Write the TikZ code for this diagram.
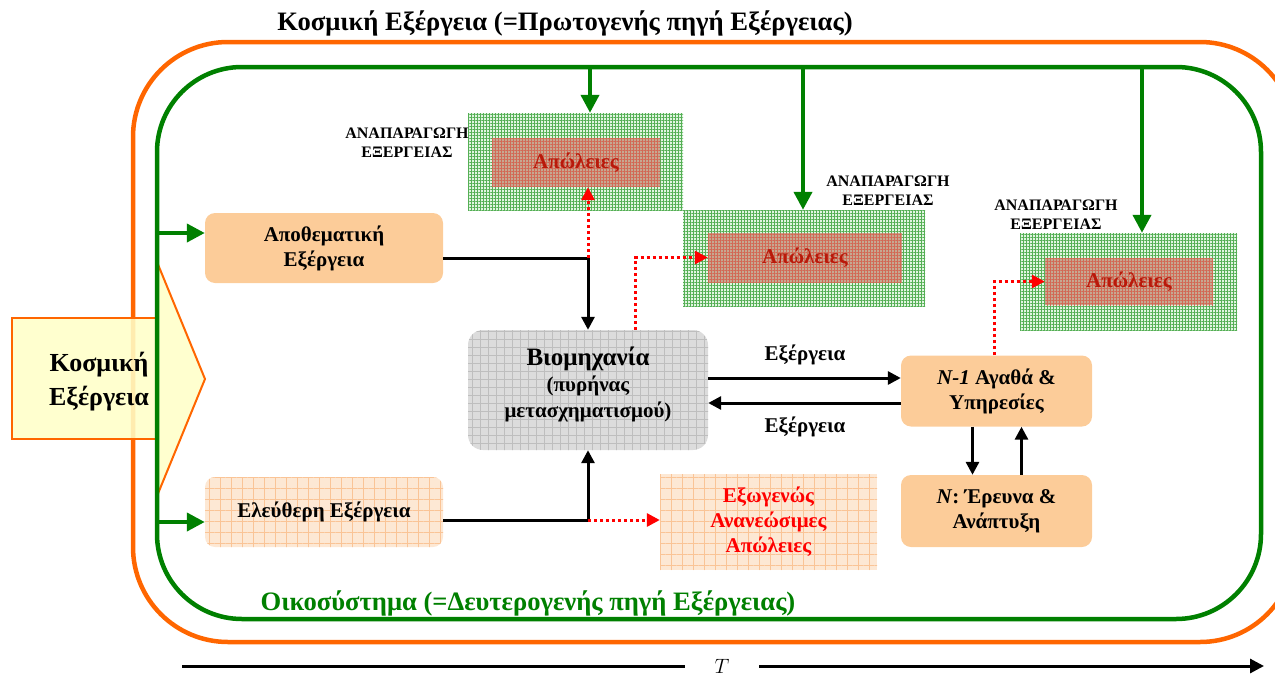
\documentclass[tikz,border=0pt]{standalone}
\usepackage{fontspec}
\setmainfont{Liberation Serif}
\usetikzlibrary{arrows.meta,patterns.meta,calc}

\definecolor{orangeline}{RGB}{255,102,0}
\definecolor{greenline}{RGB}{0,128,0}
\definecolor{peach}{RGB}{252,204,153}
\definecolor{lightpeach}{RGB}{253,232,212}
\definecolor{peachgrid}{RGB}{250,196,150}
\definecolor{boxgrey}{RGB}{220,220,220}
\definecolor{gridgrey}{RGB}{190,190,190}
\definecolor{paleyellow}{RGB}{255,255,200}
\definecolor{greenbase}{RGB}{225,245,225}
\definecolor{greengrid}{RGB}{85,175,85}
\definecolor{lossbase}{RGB}{198,168,145}
\definecolor{lossgrid}{RGB}{210,105,85}
\definecolor{losstext}{RGB}{185,25,10}

\tikzset{
  flowline/.style={line width=3pt, -{Triangle[length=13pt,width=13pt]}},
  greenflow/.style={greenline, line width=4pt, -{Triangle[length=18pt,width=18pt]}},
  lossflow/.style={red, line width=3pt, dash pattern=on 3pt off 3pt,
    -{Triangle[length=13pt,width=13pt]}},
  boxfont/.style={font=\fontsize{21}{25}\selectfont\bfseries},
  peachbox/.style={fill=peach, rounded corners=10pt, align=center,
    boxfont, inner sep=0pt},
  lightbox/.style={fill=lightpeach, align=center, inner sep=0pt,
    postaction={pattern={Hatch[angle=0,distance=11pt,line width=.6pt]},
      pattern color=peachgrid}},
  greybox/.style={fill=boxgrey, rounded corners=15pt, align=center, inner sep=0pt,
    postaction={pattern={Hatch[angle=0,distance=8pt,line width=.6pt]},
      pattern color=gridgrey}},
  greentex/.style={fill=greenbase, inner sep=0pt,
    postaction={pattern={Hatch[angle=0,distance=3pt,line width=.8pt]},
      pattern color=greengrid}},
  losstex/.style={fill=lossbase, inner sep=0pt, text=losstext,
    font=\fontsize{21}{21}\selectfont\bfseries,
    postaction={pattern={Hatch[angle=0,distance=3pt,line width=.6pt]},
      pattern color=lossgrid}},
  replabel/.style={align=center, inner sep=0pt,
    font=\fontsize{16}{19}\selectfont\bfseries},
  exlabel/.style={inner sep=0pt, font=\fontsize{21}{21}\selectfont\bfseries},
}

\begin{document}
\begin{tikzpicture}[x=1pt,y=-1pt]
\useasboundingbox (0,0) rectangle (1275,675);

% outer frame: cosmic exergy (primary source)
\begin{scope}
  \clip (0,0) rectangle (1275,675);
  \draw[orangeline, line width=4.5pt, rounded corners=95pt]
    (133,42) rectangle (1295,642);
\end{scope}

% incoming cosmic exergy arrow
\fill[paleyellow, fill opacity=0.88] (12,318) -- (157,318) -- (157,262) -- (205,379)
  -- (157,496) -- (157,439) -- (12,439) -- cycle;
\draw[orangeline, line width=2pt] (157,318) -- (12,318) -- (12,439) -- (157,439);
\draw[orangeline, line width=2pt] (157,262) -- (205,379) -- (157,496);
\node[align=center, inner sep=0pt, font=\fontsize{26}{34}\selectfont\bfseries]
  (cosmic) at (99,382) {Κοσμική\\Εξέργεια};

% inner frame: ecosystem (secondary source)
\draw[greenline, line width=4.5pt, rounded corners=85pt] (157,67) rectangle (1261,619);

% titles
\node[inner sep=0pt, font=\fontsize{26.6}{26}\selectfont\bfseries]
  (title) at (565,23) {Κοσμική Εξέργεια (=Πρωτογενής πηγή Εξέργειας)};
\node[inner sep=0pt, text=greenline, font=\fontsize{26.6}{26}\selectfont\bfseries]
  (eco) at (528,603) {Οικοσύστημα (=Δευτερογενής πηγή Εξέργειας)};

% exergy sources
\node[peachbox, minimum width=238pt, minimum height=70pt] (stock) at (324,248)
  {Αποθεματική\\Εξέργεια};
\node[lightbox, rounded corners=10pt, minimum width=238pt, minimum height=70pt,
  boxfont] (free) at (324,512) {Ελεύθερη Εξέργεια};

% industry core
\node[greybox, minimum width=240pt, minimum height=120pt, text depth=16pt,
  font=\fontsize{21}{26}\selectfont\bfseries] (bio) at (588,390)
  {{\fontsize{25}{26}\selectfont Βιομηχανία}\\(πυρήνας\\μετασχηματισμού)};

% exogenous losses
\node[lightbox, minimum width=217pt, minimum height=96pt, text=red,
  boxfont] (exo) at (768.5,522)
  {Εξωγενώς\\Ανανεώσιμες\\Απώλειες};

% goods and R&D
\node[peachbox, minimum width=191pt, minimum height=71pt] (goods) at (996.5,391)
  {\textit{N-1} Αγαθά \&\\Υπηρεσίες};
\node[peachbox, minimum width=191pt, minimum height=72pt] (rnd) at (996.5,511)
  {\textit{N}: Έρευνα \&\\Ανάπτυξη};

% exergy reproduction areas with losses
\node[greentex, minimum width=215pt, minimum height=97pt] (rep1) at (575.5,161.5) {};
\node[losstex, minimum width=168pt, minimum height=49pt] (loss1) at (576,162.5) {Απώλειες};
\node[greentex, minimum width=242pt, minimum height=96pt] (rep2) at (804,258) {};
\node[losstex, minimum width=194pt, minimum height=49pt] (loss2) at (805,257.5) {Απώλειες};
\node[greentex, minimum width=217pt, minimum height=97pt] (rep3) at (1128.5,281.5) {};
\node[losstex, minimum width=168pt, minimum height=47pt] (loss3) at (1129,281.5) {Απώλειες};

\node[replabel] (lab1) at (407,143) {ΑΝΑΠΑΡΑΓΩΓΗ\\ΕΞΕΡΓΕΙΑΣ};
\node[replabel] (lab2) at (888,191) {ΑΝΑΠΑΡΑΓΩΓΗ\\ΕΞΕΡΓΕΙΑΣ};
\node[replabel] (lab3) at (1056,215) {ΑΝΑΠΑΡΑΓΩΓΗ\\ΕΞΕΡΓΕΙΑΣ};

% green feeds from the ecosystem frame
\coordinate (gl1) at (157,233);
\coordinate (gl2) at (157,522);
\coordinate (gt1) at (590,67);
\coordinate (gt2) at (803,67);
\coordinate (gt3) at (1142,67);
\draw[greenflow] (gl1) -- (gl1 -| stock.west);
\draw[greenflow] (gl2) -- (gl2 -| free.west);
\draw[greenflow] (gt1) -- (gt1 |- rep1.north);
\draw[greenflow] (gt2) -- (gt2 |- rep2.north);
\draw[greenflow] (gt3) -- (gt3 |- rep3.north);

% exergy flows into the industry
\coordinate (s1) at ($(stock.east)+(0,10)$);
\coordinate (f1) at ($(free.east)+(0,8)$);
\draw[flowline] (s1) -| (bio.north);
\draw[flowline] (f1) -| (bio.south);

% losses
\coordinate (lc1) at (s1 -| bio.north);
\draw[lossflow] (lc1) -- (lc1 |- loss1.south);
\coordinate (fc1) at (f1 -| bio.south);
\draw[lossflow] (fc1) -- (fc1 -| exo.west);
\coordinate (bt) at ($(bio.north)+(47,0)$);
\draw[lossflow] (bt) |- (loss2.west);
\coordinate (gtop) at ($(goods.north)+(-2,0)$);
\draw[lossflow] (gtop) |- (loss3.west);

% exergy exchange between industry and goods
\draw[flowline] ($(bio.east)+(0,-12)$) -- ($(goods.west)+(0,-13)$);
\draw[flowline] ($(goods.west)+(0,12)$) -- ($(bio.east)+(0,13)$);
\node[exlabel] (ex1) at (805,355) {Εξέργεια};
\node[exlabel] (ex2) at (805,427) {Εξέργεια};

% goods <-> research
\draw[flowline] ($(goods.south)+(-24,0)$) -- ($(rnd.north)+(-24,0)$);
\draw[flowline] ($(rnd.north)+(25,0)$) -- ($(goods.south)+(25,0)$);

% time axis
\coordinate (t0) at (182,666);
\coordinate (t1) at (1264,666);
\node[inner sep=0pt, minimum width=74pt, font=\fontsize{22}{22}\selectfont]
  (tlab) at (722,666) {$T$};
\draw[line width=3pt] (t0) -- (tlab.west);
\draw[line width=3pt, -{Triangle[length=14pt,width=14pt]}] (tlab.east) -- (t1);
\end{tikzpicture}
\end{document}
